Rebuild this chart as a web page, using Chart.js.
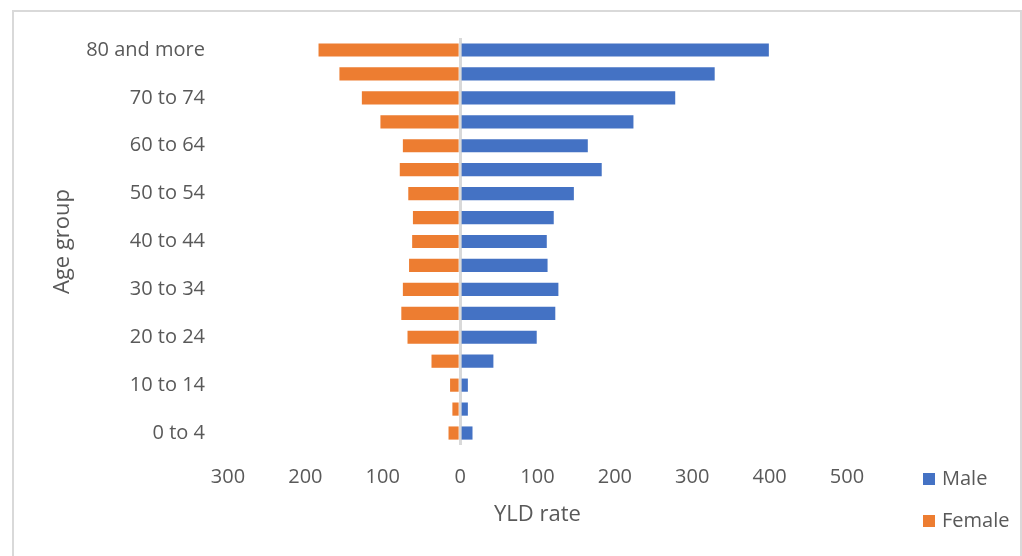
<!DOCTYPE html>
<html>
<head>
<meta charset="utf-8">
<script src="https://cdn.jsdelivr.net/npm/chart.js@4"></script>
<style>
  html, body { margin: 0; padding: 0; background: #fff; }
  #wrap { position: relative; width: 1022px; height: 556px; overflow: hidden; }
  #frame {
    position: absolute; left: 12px; top: 10px; width: 1006px; height: 560px;
    border: 2px solid #d9d9d9; pointer-events: none;
  }
</style>
</head>
<body>
<div id="wrap">
  <div id="frame"></div>
  <canvas id="pyramidChart" width="1022" height="556"></canvas>
</div>
<script>
// age groups, youngest first (drawn bottom-up)
const ageGroups = [
  "0 to 4", "5 to 9", "10 to 14", "15 to 19", "20 to 24", "25 to 29",
  "30 to 34", "35 to 39", "40 to 44", "45 to 49", "50 to 54", "55 to 59",
  "60 to 64", "65 to 69", "70 to 74", "75 to 79", "80 and more"
];
const maleRate = [16, 10, 10, 43, 99, 123, 127, 113, 112, 121, 147, 183, 165, 224, 278, 329, 399];
const femaleRate = [15, 10, 13, 37, 68, 76, 74, 66, 62, 61, 67, 78, 74, 103, 127, 156, 183];
const xMin = -300;
const xMax = 500;
const xStep = 100;

const textColor = "#595959";
const fontFamily = "'Open Sans', sans-serif";

// legend drawn in the bottom right corner, like the original
const cornerLegend = {
  id: "cornerLegend",
  afterDraw(chart) {
    const ctx = chart.ctx;
    ctx.save();
    ctx.font = "20px " + fontFamily;
    ctx.textBaseline = "middle";
    chart.data.datasets.forEach(function (ds, i) {
      const y = 479 + i * 42;
      ctx.fillStyle = ds.backgroundColor;
      ctx.fillRect(923, y - 6, 12, 12);
      ctx.fillStyle = textColor;
      ctx.fillText(ds.label, 942, y);
    });
    ctx.restore();
  }
};

document.addEventListener("DOMContentLoaded", function () {
  const ctx = document.getElementById("pyramidChart").getContext("2d");
  new Chart(ctx, {
    type: "bar",
    data: {
      labels: ageGroups,
      datasets: [
        {
          label: "Male",
          data: maleRate,
          backgroundColor: "#4472C4",
          barPercentage: 0.55,
          categoryPercentage: 1
        },
        {
          label: "Female",
          data: femaleRate.map(function (v) { return -v; }),
          backgroundColor: "#ED7D31",
          barPercentage: 0.55,
          categoryPercentage: 1
        }
      ]
    },
    options: {
      indexAxis: "y",
      responsive: false,
      animation: false,
      layout: { padding: { left: 0, right: 175, top: 38, bottom: 0 } },
      plugins: {
        legend: { display: false },
        tooltip: { enabled: false }
      },
      scales: {
        x: {
          stacked: true,
          min: xMin,
          max: xMax,
          z: 1,
          border: { display: false },
          grid: {
            drawTicks: false,
            lineWidth: 3,
            color: function (c) {
              return c.tick && c.tick.value === 0 ? "#d9d9d9" : "rgba(0,0,0,0)";
            }
          },
          ticks: {
            stepSize: xStep,
            padding: 20,
            color: textColor,
            font: { family: fontFamily, size: 20 },
            callback: function (v) { return Math.abs(v); }
          },
          title: {
            display: true,
            text: "YLD rate",
            color: textColor,
            font: { family: fontFamily, size: 22 },
            padding: { top: 0, bottom: 28 }
          },
          afterFit: function (scale) { scale.height = 111; }
        },
        y: {
          stacked: true,
          reverse: true,
          border: { display: false },
          grid: { display: false, drawTicks: false },
          ticks: {
            autoSkip: false,
            padding: 23,
            color: textColor,
            font: { family: fontFamily, size: 20 },
            callback: function (v, i) { return i % 2 === 0 ? ageGroups[i] : ""; }
          },
          title: {
            display: true,
            text: "Age group",
            color: textColor,
            font: { family: fontFamily, size: 22 },
            padding: { top: 50, bottom: 0 }
          },
          afterFit: function (scale) { scale.width = 228; }
        }
      }
    },
    plugins: [cornerLegend]
  });
});
</script>
</body>
</html>
